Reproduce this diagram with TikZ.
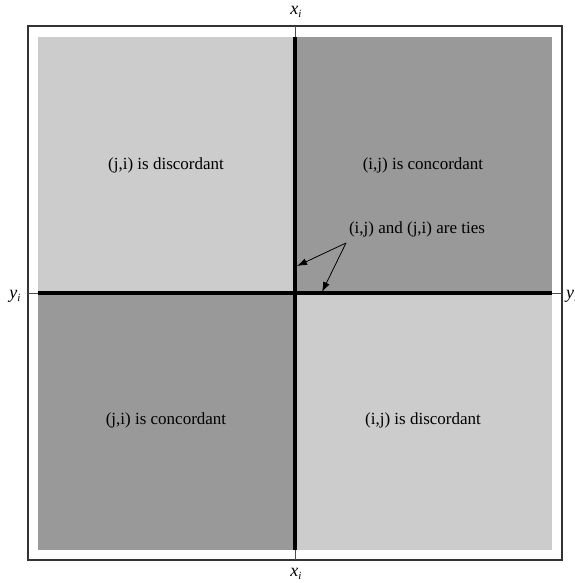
\documentclass[tikz,border=0pt]{standalone}
\usepackage{fontspec}
\setmainfont{Liberation Serif}
\usetikzlibrary{arrows.meta}
\newcommand{\subvar}[2]{\textit{#1}\raisebox{-0.35ex}{\fontsize{11}{12}\selectfont\textit{#2}}}
\begin{document}
\begin{tikzpicture}[x=1pt,y=-1pt,
  lbl/.style={font=\fontsize{17}{20}\selectfont, inner sep=0pt},
  axlbl/.style={font=\fontsize{18}{20}\selectfont, inner sep=0pt},
  tie/.style={-{Latex[length=10pt,width=7pt]}, line width=0.8pt}]
\useasboundingbox (0,0) rectangle (574,583);
\fill[white] (0,0) rectangle (574,583);
% quadrants
\fill[black!20] (38,37) rectangle (295,293);
\fill[black!40] (295,37) rectangle (552,293);
\fill[black!40] (38,293) rectangle (295,550);
\fill[black!20] (295,293) rectangle (552,550);
% frame
\draw[line width=1.3pt, black!80] (28,26) rectangle (562,560);
% thin axes
\draw[line width=1pt, black!70] (295,26) -- (295,560);
\draw[line width=1pt, black!70] (28,293) -- (562,293);
% thick axes
\draw[line width=4pt] (295,37) -- (295,550);
\draw[line width=4pt] (38,293) -- (552,293);
% axis labels
\node[axlbl] (xt) at (296,12) {\subvar{x}{i}};
\node[axlbl] (xb) at (296,574) {\subvar{x}{i}};
\node[axlbl] (yl) at (15,296) {\subvar{y}{i}};
\node[axlbl, anchor=west] (yr) at (566,296) {\subvar{y}{i}};
% quadrant labels
\node[lbl] (q1) at (166,165) {(j,i) is discordant};
\node[lbl] (q2) at (423,165) {(i,j) is concordant};
\node[lbl] (q3) at (166,420) {(j,i) is concordant};
\node[lbl] (q4) at (423,420) {(i,j) is discordant};
\node[lbl] (ties) at (417,229) {(i,j) and (j,i) are ties};
\coordinate (t0) at (346,243);
\coordinate (av) at (297,266);
\coordinate (ah) at (322,292);
\draw[tie] (t0) -- (av);
\draw[tie] (t0) -- (ah);
\end{tikzpicture}
\end{document}
